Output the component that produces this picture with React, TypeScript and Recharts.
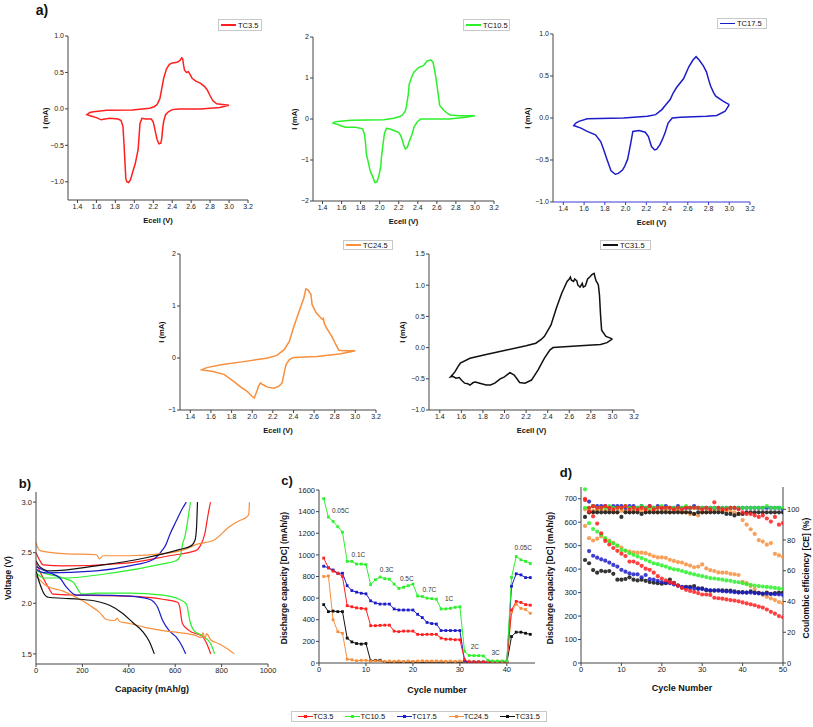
import React from "react";
import {
  LineChart,
  Line,
  XAxis,
  YAxis,
  ScatterChart,
  Scatter,
  ReferenceDot,
} from "recharts";

// ── Series names & colours ───────────────────────────────────────────────────
const SERIES = ["TC3.5", "TC10.5", "TC17.5", "TC24.5", "TC31.5"];
const RED = "#ff1f1f";
const GREEN = "#2bf02b";
const BLUE = "#1c1cc8";
const ORANGE = "#f78f3c";
const BLACK = "#111111";
const COLORS = [RED, GREEN, BLUE, ORANGE, BLACK];
const FONT = "'Liberation Sans', Arial, Helvetica, sans-serif";

// ── a) cyclic voltammetry loops: [Ecell (V), I (mA)] ─────────────────────────
const CV_X_TICKS = [1.4, 1.6, 1.8, 2.0, 2.2, 2.4, 2.6, 2.8, 3.0, 3.2];

const CV_TC3 = [
  [3.0, 0.05], [2.9, 0.02], [2.7, 0.0], [2.47, 0.0], [2.4, -0.01], [2.36, -0.04], [2.33, -0.08],
  [2.31, -0.17], [2.3, -0.26], [2.29, -0.4], [2.28, -0.47], [2.26, -0.48], [2.24, -0.42],
  [2.23, -0.36], [2.21, -0.24], [2.2, -0.18], [2.18, -0.14], [2.12, -0.14], [2.08, -0.13],
  [2.06, -0.2], [2.05, -0.38], [2.04, -0.56], [2.01, -0.75], [1.98, -0.88], [1.96, -0.97],
  [1.94, -1.01], [1.92, -1.0], [1.91, -0.95], [1.9, -0.7], [1.89, -0.45], [1.88, -0.24],
  [1.86, -0.16], [1.83, -0.14], [1.74, -0.13], [1.69, -0.14], [1.65, -0.15], [1.6, -0.12],
  [1.55, -0.1], [1.5, -0.08],
  [1.53, -0.05], [1.57, -0.04], [1.71, -0.02], [1.98, -0.015], [2.16, 0.01], [2.21, 0.03],
  [2.24, 0.06], [2.27, 0.14], [2.29, 0.28], [2.31, 0.42], [2.34, 0.55], [2.37, 0.61],
  [2.4, 0.63], [2.45, 0.64], [2.48, 0.66], [2.5, 0.7], [2.51, 0.69], [2.52, 0.6], [2.53, 0.53],
  [2.55, 0.5], [2.57, 0.51], [2.59, 0.47], [2.61, 0.42], [2.65, 0.38], [2.7, 0.35],
  [2.74, 0.31], [2.77, 0.26], [2.8, 0.18], [2.83, 0.11], [2.87, 0.07], [2.93, 0.06], [3.0, 0.05],
];

const CV_TC10 = [
  [3.0, 0.08], [2.9, 0.04], [2.73, 0.0], [2.43, 0.0], [2.39, -0.08], [2.36, -0.2], [2.34, -0.37],
  [2.31, -0.55], [2.29, -0.69], [2.27, -0.73], [2.25, -0.62], [2.24, -0.53], [2.22, -0.4],
  [2.2, -0.33], [2.15, -0.28], [2.1, -0.24], [2.07, -0.23], [2.05, -0.35], [2.04, -0.53],
  [2.02, -0.9], [2.01, -1.18], [1.99, -1.4], [1.97, -1.54], [1.95, -1.55], [1.93, -1.43],
  [1.9, -1.26], [1.88, -1.05], [1.86, -0.85], [1.85, -0.55], [1.84, -0.37], [1.82, -0.24],
  [1.75, -0.2], [1.64, -0.2], [1.6, -0.17], [1.57, -0.14], [1.51, -0.1],
  [1.53, -0.07], [1.56, -0.06], [1.7, -0.03], [2.04, -0.02], [2.15, 0.02], [2.21, 0.06],
  [2.24, 0.1], [2.27, 0.2], [2.28, 0.3], [2.3, 0.6], [2.31, 0.85], [2.34, 1.05], [2.36, 1.14],
  [2.41, 1.26], [2.46, 1.3], [2.48, 1.36], [2.5, 1.42], [2.54, 1.44], [2.56, 1.38],
  [2.58, 1.15], [2.6, 0.85], [2.62, 0.5], [2.63, 0.33], [2.67, 0.22], [2.71, 0.14],
  [2.74, 0.1], [2.84, 0.08], [3.0, 0.08],
];

const CV_TC17 = [
  [3.0, 0.16], [2.96, 0.08], [2.88, 0.03], [2.78, 0.02], [2.53, 0.01], [2.45, 0.0], [2.41, -0.06],
  [2.38, -0.18], [2.35, -0.27], [2.33, -0.32], [2.3, -0.37], [2.28, -0.38], [2.25, -0.34],
  [2.22, -0.22], [2.19, -0.17], [2.13, -0.15], [2.07, -0.16], [2.05, -0.3], [2.02, -0.49],
  [1.99, -0.58], [1.97, -0.62], [1.93, -0.66], [1.9, -0.67], [1.86, -0.63], [1.82, -0.49],
  [1.79, -0.38], [1.76, -0.28], [1.71, -0.2], [1.63, -0.16], [1.57, -0.12], [1.5, -0.09],
  [1.52, -0.06], [1.55, -0.04], [1.63, -0.01], [1.98, 0.0], [2.21, 0.02], [2.29, 0.04],
  [2.35, 0.1], [2.39, 0.16], [2.43, 0.22], [2.46, 0.3], [2.49, 0.36], [2.56, 0.47],
  [2.61, 0.61], [2.65, 0.69], [2.68, 0.73], [2.71, 0.69], [2.75, 0.62], [2.78, 0.55],
  [2.8, 0.46], [2.82, 0.38], [2.85, 0.3], [2.87, 0.26], [2.94, 0.2], [3.0, 0.16],
];

const CV_TC24 = [
  [3.0, 0.14], [2.93, 0.11], [2.86, 0.08], [2.63, 0.03], [2.4, 0.01], [2.36, -0.03], [2.33, -0.12],
  [2.32, -0.19], [2.3, -0.38], [2.29, -0.48], [2.26, -0.54], [2.21, -0.58], [2.15, -0.56],
  [2.1, -0.51], [2.08, -0.48], [2.06, -0.55], [2.05, -0.61], [2.02, -0.77], [2.0, -0.74],
  [1.95, -0.64], [1.89, -0.56], [1.82, -0.45], [1.73, -0.32], [1.62, -0.26], [1.51, -0.23],
  [1.54, -0.2], [1.57, -0.18], [1.7, -0.13], [1.95, -0.06], [2.15, 0.0], [2.24, 0.05],
  [2.31, 0.16], [2.36, 0.32], [2.4, 0.58], [2.45, 0.87], [2.5, 1.15], [2.52, 1.33],
  [2.54, 1.31], [2.56, 1.25], [2.57, 1.22], [2.58, 1.03], [2.62, 0.87], [2.68, 0.74],
  [2.69, 0.76], [2.7, 0.66], [2.72, 0.58], [2.77, 0.42], [2.81, 0.26], [2.84, 0.15],
  [2.89, 0.14], [3.0, 0.14],
];

const CV_TC31 = [
  [3.0, 0.14], [2.95, 0.08], [2.89, 0.05], [2.7, 0.03], [2.45, 0.0], [2.42, -0.04], [2.37, -0.17],
  [2.31, -0.36], [2.25, -0.52], [2.19, -0.57], [2.14, -0.56], [2.09, -0.44], [2.05, -0.4],
  [2.02, -0.44], [2.0, -0.47], [1.96, -0.5], [1.91, -0.57], [1.87, -0.6], [1.83, -0.6],
  [1.77, -0.57], [1.73, -0.55], [1.71, -0.56], [1.68, -0.6], [1.66, -0.58], [1.63, -0.57],
  [1.6, -0.52], [1.58, -0.48], [1.55, -0.49], [1.52, -0.46], [1.5, -0.47],
  [1.54, -0.39], [1.57, -0.3], [1.59, -0.25], [1.68, -0.17], [1.83, -0.11], [2.02, -0.04],
  [2.2, 0.03], [2.29, 0.07], [2.34, 0.13], [2.37, 0.18], [2.43, 0.36], [2.48, 0.63],
  [2.53, 0.87], [2.58, 1.06], [2.6, 1.1], [2.61, 1.13], [2.62, 1.08], [2.64, 1.06],
  [2.65, 1.1], [2.67, 1.07], [2.68, 1.0], [2.7, 0.97], [2.72, 1.03], [2.73, 0.97],
  [2.75, 0.99], [2.77, 1.1], [2.79, 1.13], [2.81, 1.17], [2.83, 1.19], [2.84, 1.12],
  [2.85, 1.06], [2.86, 1.04], [2.87, 1.0], [2.88, 0.84], [2.89, 0.52], [2.9, 0.28],
  [2.94, 0.18], [3.0, 0.14],
];

// ── b) charge / discharge profiles: [capacity (mAh/g), voltage (V)] ──────────
const DIS_TC3 = [
  [0, 2.4], [20, 2.3], [31, 2.25], [55, 2.15], [74, 2.09], [189, 2.08], [403, 2.07], [546, 2.04],
  [610, 2.01], [620, 1.96], [626, 1.86], [631, 1.8], [660, 1.73], [717, 1.67], [740, 1.58], [753, 1.5],
];
const CHG_TC3 = [
  [0, 2.5], [15, 2.43], [31, 2.38], [117, 2.37], [403, 2.4], [574, 2.47], [689, 2.52],
  [706, 2.56], [728, 2.69], [742, 2.88], [752, 3.0],
];
const DIS_TC10 = [
  [0, 2.32], [46, 2.29], [117, 2.25], [160, 2.21], [185, 2.12], [196, 2.09], [260, 2.1],
  [403, 2.1], [546, 2.08], [617, 2.04], [649, 1.99], [657, 1.9], [663, 1.83], [681, 1.73],
  [717, 1.68], [753, 1.6], [770, 1.5],
];
const CHG_TC10 = [
  [0, 2.3], [17, 2.27], [31, 2.25], [117, 2.25], [331, 2.3], [546, 2.39], [603, 2.42],
  [624, 2.48], [631, 2.58], [642, 2.66], [656, 2.85], [666, 3.0],
];
const DIS_TC17 = [
  [0, 2.36], [60, 2.3], [103, 2.25], [131, 2.16], [174, 2.08], [260, 2.08], [403, 2.07],
  [489, 2.04], [524, 1.96], [546, 1.83], [574, 1.73], [603, 1.67], [631, 1.57], [645, 1.5],
];
const CHG_TC17 = [
  [0, 2.34], [20, 2.31], [46, 2.3], [260, 2.32], [403, 2.37], [503, 2.43], [546, 2.53],
  [560, 2.58], [577, 2.68], [606, 2.82], [627, 2.92], [648, 3.0],
];
const DIS_TC24 = [
  [0, 2.27], [46, 2.17], [117, 2.12], [189, 2.04], [231, 1.98], [274, 1.91], [303, 1.84],
  [339, 1.83], [350, 1.85], [360, 1.82], [403, 1.8], [474, 1.76], [546, 1.73], [617, 1.71],
  [689, 1.68], [712, 1.66], [720, 1.71], [728, 1.65], [735, 1.7], [753, 1.64], [789, 1.6],
  [831, 1.54], [855, 1.5],
];
const CHG_TC24 = [
  [0, 2.6], [8, 2.55], [17, 2.52], [117, 2.49], [260, 2.48], [274, 2.44], [289, 2.47],
  [403, 2.47], [546, 2.49], [640, 2.53], [689, 2.58], [764, 2.62], [835, 2.76], [880, 2.82],
  [907, 2.85], [917, 2.88], [920, 3.0],
];
const DIS_TC31 = [
  [0, 2.32], [17, 2.19], [31, 2.11], [53, 2.06], [117, 2.05], [189, 2.04], [260, 2.02],
  [317, 1.98], [374, 1.9], [417, 1.81], [460, 1.72], [489, 1.62], [510, 1.5],
];
const CHG_TC31 = [
  [0, 2.42], [17, 2.36], [60, 2.32], [260, 2.37], [474, 2.45], [617, 2.53], [670, 2.57],
  [685, 2.62], [692, 2.75], [696, 3.0],
];

// ── c) rate capability: discharge capacity per cycle ────────────────────────
const CYCLES_C = [
  1, 2, 3, 4, 5, 6, 7, 8, 9, 10, 11, 12, 13, 14, 15, 16, 17, 18, 19, 20, 21, 22, 23, 24, 25,
  26, 27, 28, 29, 30, 31, 32, 33, 34, 35, 36, 37, 38, 39, 40, 41, 42, 43, 44, 45,
];
const RATE_TC3 = [
  970, 880, 850, 830, 800, 530, 520, 510, 505, 500, 345, 345, 348, 350, 350, 295, 290, 295, 295,
  295, 265, 262, 265, 265, 265, 230, 220, 220, 215, 215, 30, 5, 5, 5, 5, 5, 5, 5, 5, 5, 490, 570,
  560, 540, 535,
];
const RATE_TC10 = [
  1520, 1350, 1310, 1260, 1210, 940, 940, 915, 915, 910, 725, 770, 795, 780, 775, 730, 690, 700,
  715, 730, 620, 615, 600, 595, 590, 500, 500, 505, 515, 520, 108, 70, 68, 68, 65, 25, 18, 18, 18,
  18, 790, 985, 955, 940, 920,
];
const RATE_TC17 = [
  895, 880, 860, 830, 830, 715, 670, 655, 645, 640, 575, 555, 545, 545, 545, 500, 490, 490, 490,
  490, 450, 420, 375, 365, 360, 300, 300, 300, 300, 300, 20, 8, 8, 8, 8, 8, 8, 8, 8, 8, 710, 825,
  815, 790, 790,
];
const RATE_TC24 = [
  800, 805, 400, 290, 275, 35, 30, 20, 25, 25, 18, 20, 18, 15, 18, 15, 18, 15, 18, 15, 18, 20, 18,
  18, 18, 18, 15, 18, 15, 18, 15, 18, 15, 15, 15, 15, 15, 15, 15, 15, 470, 545, 505, 495, 460,
];
const RATE_TC31 = [
  540, 475, 480, 475, 475, 230, 195, 180, 175, 180, 20, 25, 25, 5, 3, 3, 3, 3, 3, 3, 3, 3, 3, 3, 3,
  3, 3, 3, 3, 3, 3, 3, 3, 3, 3, 3, 3, 3, 3, 3, 245, 285, 285, 275, 265,
];
const RATE_LABELS = ["0.05C", "0.1C", "0.3C", "0.5C", "0.7C", "1C", "2C", "3C", "0.05C"];
const RATE_LABEL_CYCLE = [4.6, 8.4, 14.4, 18.7, 23.5, 27.7, 33.2, 37.6, 43.5];
const RATE_LABEL_CAP = [1409, 1005, 860, 777, 675, 598, 151, 95, 1070];

// ── d) long cycling: discharge capacity (mAh/g) and coulombic efficiency (%) ─
const CYCLES_D = [
  1, 2, 3, 4, 5, 6, 7, 8, 9, 10, 11, 12, 13, 14, 15, 16, 17, 18, 19, 20, 21, 22, 23, 24, 25,
  26, 27, 28, 29, 30, 31, 32, 33, 34, 35, 36, 37, 38, 39, 40, 41, 42, 43, 44, 45, 46, 47, 48, 49, 50,
];
const DC_TC3 = [
  700, 646, 625, 594, 553, 520, 505, 490, 478, 466, 456, 432, 432, 425, 414, 402, 397, 385, 370,
  360, 352, 345, 340, 330, 320, 312, 307, 303, 298, 292, 292, 290, 278, 276, 274, 271, 268, 266,
  263, 258, 254, 250, 246, 240, 236, 228, 218, 210, 200, 195,
];
const DC_TC10 = [
  740, 596, 571, 560, 546, 532, 518, 510, 500, 482, 479, 468, 461, 454, 447, 440, 432, 425, 421,
  416, 411, 404, 399, 397, 392, 387, 382, 378, 374, 370, 366, 362, 360, 358, 355, 352, 350, 346,
  344, 340, 336, 333, 330, 328, 326, 324, 322, 320, 318, 316,
];
const DC_TC17 = [
  null, 477, 457, 449, 442, 436, 428, 418, 411, 397, 389, 382, 378, 378, 365, 375, 357, 355, 350,
  345, 343, 340, 335, 330, 325, 322, 320, 318, 316, 315, 313, 310, 310, 308, 306, 305, 304, 302,
  300, 300, 300, 300, 298, 297, 296, 295, 294, 293, 292, 290,
];
const DC_TC24 = [
  584, 532, 522, 530, 539, 528, 522, 512, 500, 492, 478, 475, 472, 470, 470, 468, 462, 455, 450,
  450, 448, 440, 435, 430, 428, 420, 415, 408, 411, 420, 403, 396, 392, 386, 385, 385, 380, 378,
  375, 346, 340, 328, 315, 300, 290, 282, 275, 268, 260, 255,
];
const DC_TC31 = [
  439, 425, 396, 385, 393, 390, 392, 380, 355, 355, 358, 365, 355, 352, 355, 350, 345, 342, 340,
  338, 340, 355, 342, 330, 322, 325, 325, 328, 318, 318, 310, 308, 308, 310, 310, 308, 308, 305,
  302, 302, 300, 305, 300, 298, 295, 300, 295, 298, 300, 300,
];
const CE_TC3 = [
  106, 101, 102, 101, 101, 102, 101, 100, 101, 101, 102, 100, 101, 100, 101, 100, 102, 100, 101,
  101, 101, 101, 100, 101, 100, 101, 101, 101, 101, 100, 101, 100, 104.5, 101, 100, 100, 101, 101,
  100, 98, 97, 97, 96, 95, 96, 94, 92, 95, 90, 91,
];
const CE_TC10 = [
  101, 101, 102, 101, 101, 101, 102, 101, 101, 101, 102, 101, 101, 101, 102, 101, 101, 101, 101,
  102, 101, 101, 101, 101, 101, 102, 101, 101, 101, 101, 101, 101, 101, 101, 101, 101, 101, 101,
  101, 101, 101, 101, 101, 101, 101, 102, 101, 101, 101, 101,
];
const CE_TC17 = [
  null, 105, 102, 102, 102, 102, 101, 102, 102, 102, 101, 102, 102, 101, 102, 101, 102, 101, 102,
  101, 102, 101, 101, 102, 101, 101, 101, 102, 101, 101, 101, 101, 101, 101, 101, 101, 101, 101,
  101, 101, 101, 101, 101, 101, 101, 101, 101, 101, 101, 100,
];
const CE_TC24 = [
  100, 98, 99, 99, 100, 99, 99, 99, 98, 99, 99, 98, 99, 99, 99, 98, 99, 99, 98, 99, 99, 98, 99, 99,
  98, 98, 97, 97, 96, 98, 98, 99, 99, 99, 99, 99, 99, 98, 97, 93, 90, 87, 84, 80, 79, 77, 78, 71,
  70, 69,
];
const CE_TC31 = [
  95, 98, 98, 98, 98, 98, 98, 98, 98, 95, 98, 98, 98, 98, 97, 98, 98, 98, 98, 98, 98, 98, 98, 98,
  98, 98, 98, 97, 98, 98, 98, 98, 98, 98, 98, 97, 97, 96, 97, 97, 98, 98, 98, 98, 98, 98, 98, 98,
  98, 98,
];

// ── layout helpers ──────────────────────────────────────────────────────────
type Box = { l: number; t: number; r: number; b: number };
const PAD = { l: 40, t: 6, r: 10, b: 24 };

function place(box: Box, rightAxis = 0) {
  return {
    style: { position: "absolute" as const, left: box.l - PAD.l, top: box.t - PAD.t },
    width: box.r - box.l + PAD.l + (rightAxis || PAD.r),
    height: box.b - box.t + PAD.t + PAD.b,
    margin: { top: PAD.t, right: rightAxis ? 0 : PAD.r, bottom: 0, left: 0 },
  };
}

const minus = (s: string) => s.replace("-", "\u2212");
const fmt1 = (v: number) => minus(v.toFixed(1));
const fmt0 = (v: number) => minus(String(v));
const toPts = (arr: number[][], kx: string, ky: string) =>
  arr.map(([a, b]) => ({ [kx]: a, [ky]: b }));

function Txt({
  x, y, size = 8.5, bold = true, rotate = 0, children,
}: { x: number; y: number; size?: number; bold?: boolean; rotate?: number; children: React.ReactNode }) {
  return (
    <div
      style={{
        position: "absolute",
        left: x,
        top: y,
        transform: `translate(-50%, -50%) rotate(${rotate}deg)`,
        whiteSpace: "nowrap",
        fontFamily: FONT,
        fontSize: size,
        fontWeight: bold ? 700 : 400,
        color: "#111",
        lineHeight: 1,
      }}
    >
      {children}
    </div>
  );
}

function CvLegend({ x, y, w, h, color, label }: { x: number; y: number; w: number; h: number; color: string; label: string }) {
  return (
    <div
      style={{
        position: "absolute", left: x, top: y, width: w, height: h, boxSizing: "border-box",
        border: "1px solid #c8c8c8", background: "#fff", display: "flex", alignItems: "center",
        gap: 2, paddingLeft: 2, fontFamily: FONT, fontSize: 7.5, color: "#111",
      }}
    >
      <span style={{ display: "inline-block", width: 15, height: 1.6, background: color }} />
      {label}
    </div>
  );
}

const axisStyle = { stroke: "#444", tickSize: 3, tickMargin: 1 };
const tickFont = (size: number) => ({ fontSize: size, fill: "#222", fontFamily: FONT });

// ── one CV panel ────────────────────────────────────────────────────────────
function CvPanel({
  box, data, color, yDomain, yTicks, yFmt, yTitleX, xAxisColor = "#444",
}: {
  box: Box; data: number[][]; color: string; yDomain: number[]; yTicks: number[];
  yFmt: (v: number) => string; yTitleX: number; xAxisColor?: string;
}) {
  const p = place(box);
  return (
    <>
      <div style={p.style}>
        <LineChart width={p.width} height={p.height} margin={p.margin}>
          <XAxis
            type="number" dataKey="e" domain={[1.3, 3.2]} ticks={CV_X_TICKS} allowDataOverflow
            tickFormatter={fmt1} height={PAD.b} {...axisStyle} stroke={xAxisColor} tick={tickFont(7)}
          />
          <YAxis
            type="number" dataKey="i" domain={yDomain} ticks={yTicks} allowDataOverflow
            tickFormatter={yFmt} width={PAD.l} {...axisStyle} tick={tickFont(7)}
          />
          <Line
            data={toPts(data, "e", "i")} dataKey="i" type="linear" stroke={color}
            strokeWidth={1.5} dot={false} isAnimationActive={false}
          />
        </LineChart>
      </div>
      <Txt x={(box.l + box.r) / 2} y={box.b + 21} size={7.5}>Ecell (V)</Txt>
      <Txt x={yTitleX} y={(box.t + box.b) / 2} size={7.5} rotate={-90}>I (mA)</Txt>
    </>
  );
}

const squareDot = (color: string) => (props: any) => {
  const { cx, cy, index } = props;
  if (cx == null || cy == null) return <g key={`d${index}`} />;
  return <rect key={`d${index}`} x={cx - 1.4} y={cy - 1.4} width={2.8} height={2.8} fill={color} />;
};
const roundDot = (color: string) => (props: any) => (
  <circle cx={props.cx} cy={props.cy} r={2.1} fill={color} fillOpacity={0.85} />
);

export default function App() {
  const boxB: Box = { l: 36, t: 492, r: 268, b: 664 };
  const boxC: Box = { l: 319, t: 490, r: 535, b: 663 };
  const boxD: Box = { l: 581, t: 487, r: 783, b: 663 };
  const pb = place(boxB);
  const pc = place(boxC);
  const pd = place(boxD, 30);

  const profiles = [
    [DIS_TC3, CHG_TC3], [DIS_TC10, CHG_TC10], [DIS_TC17, CHG_TC17],
    [DIS_TC24, CHG_TC24], [DIS_TC31, CHG_TC31],
  ];
  const rateRows = CYCLES_C.map((c, i) => ({
    cycle: c, tc3: RATE_TC3[i], tc10: RATE_TC10[i], tc17: RATE_TC17[i], tc24: RATE_TC24[i], tc31: RATE_TC31[i],
  }));
  const rateKeys = ["tc3", "tc10", "tc17", "tc24", "tc31"];
  const rateOrder = [4, 3, 2, 0, 1];
  const dcSets = [DC_TC3, DC_TC10, DC_TC17, DC_TC24, DC_TC31];
  const ceSets = [CE_TC3, CE_TC10, CE_TC17, CE_TC24, CE_TC31];
  const toScatter = (vals: (number | null)[]) =>
    CYCLES_D.map((c, i) => ({ x: c, y: vals[i] })).filter((d) => d.y != null);
  const dOrder = [3, 4, 2, 1, 0];

  return (
    <div style={{ position: "absolute", left: 0, top: 0, width: 813, height: 727, background: "#fff", overflow: "hidden" }}>
      {/* a) */}
      <Txt x={42} y={10} size={14}>a)</Txt>
      <CvPanel box={{ l: 68, t: 36, r: 248, b: 200 }} data={CV_TC3} color={RED}
        yDomain={[-1.25, 1]} yTicks={[-1, -0.5, 0, 0.5, 1]} yFmt={fmt1} yTitleX={46} />
      <CvPanel box={{ l: 313, t: 37, r: 494, b: 201 }} data={CV_TC10} color={GREEN}
        yDomain={[-2, 2]} yTicks={[-2, -1, 0, 1, 2]} yFmt={fmt0} yTitleX={295} />
      <CvPanel box={{ l: 553, t: 34, r: 750, b: 202 }} data={CV_TC17} color={BLUE}
        yDomain={[-1, 1]} yTicks={[-1, -0.5, 0, 0.5, 1]} yFmt={fmt1} yTitleX={528} xAxisColor="#3a3ad8" />
      <CvPanel box={{ l: 180, t: 254, r: 376, b: 410 }} data={CV_TC24} color={ORANGE}
        yDomain={[-1, 2]} yTicks={[-1, 0, 1, 2]} yFmt={fmt0} yTitleX={162} />
      <CvPanel box={{ l: 429, t: 254, r: 634, b: 410 }} data={CV_TC31} color={BLACK}
        yDomain={[-1, 1.5]} yTicks={[-1, -0.5, 0, 0.5, 1, 1.5]} yFmt={fmt1} yTitleX={403} />
      <CvLegend x={218} y={19} w={44} h={12} color={RED} label={SERIES[0]} />
      <CvLegend x={463} y={19} w={47} h={12} color={GREEN} label={SERIES[1]} />
      <CvLegend x={717} y={18} w={50} h={11} color={BLUE} label={SERIES[2]} />
      <CvLegend x={343} y={240} w={50} h={10} color={ORANGE} label={SERIES[3]} />
      <CvLegend x={600} y={240} w={51} h={10} color={BLACK} label={SERIES[4]} />

      {/* b) */}
      <Txt x={25} y={483} size={13}>b)</Txt>
      <div style={pb.style}>
        <LineChart width={pb.width} height={pb.height} margin={pb.margin}>
          <XAxis type="number" dataKey="c" domain={[0, 1000]} ticks={[0, 200, 400, 600, 800, 1000]}
            allowDataOverflow height={PAD.b} {...axisStyle} tick={tickFont(7.5)} />
          <YAxis type="number" dataKey="v" domain={[1.4, 3.1]} ticks={[1.5, 2.0, 2.5, 3.0]}
            allowDataOverflow tickFormatter={fmt1} width={PAD.l} {...axisStyle} tick={tickFont(7.5)} />
          {profiles.flatMap(([dis, chg], k) => [
            <Line key={`d${k}`} data={toPts(dis, "c", "v")} dataKey="v" type="monotone"
              stroke={COLORS[k]} strokeWidth={1.2} dot={false} isAnimationActive={false} />,
            <Line key={`c${k}`} data={toPts(chg, "c", "v")} dataKey="v" type="monotone"
              stroke={COLORS[k]} strokeWidth={1.2} dot={false} isAnimationActive={false} />,
          ])}
        </LineChart>
      </div>
      <Txt x={152} y={689} size={9}>Capacity (mAh/g)</Txt>
      <Txt x={8} y={578} size={8.5} rotate={-90}>Voltage (V)</Txt>

      {/* c) */}
      <Txt x={287} y={480} size={13}>c)</Txt>
      <div style={pc.style}>
        <LineChart width={pc.width} height={pc.height} margin={pc.margin} data={rateRows}>
          <XAxis type="number" dataKey="cycle" domain={[0, 46]} ticks={[0, 10, 20, 30, 40]}
            allowDataOverflow height={PAD.b} {...axisStyle} tick={tickFont(7.5)} />
          <YAxis type="number" domain={[0, 1600]} ticks={[0, 200, 400, 600, 800, 1000, 1200, 1400, 1600]}
            allowDataOverflow width={PAD.l} {...axisStyle} tick={tickFont(7.5)} />
          {rateOrder.map((k) => (
            <Line key={rateKeys[k]} dataKey={rateKeys[k]} type="linear" stroke={COLORS[k]}
              strokeWidth={1} dot={squareDot(COLORS[k])} activeDot={false} isAnimationActive={false} />
          ))}
          {RATE_LABELS.map((lbl, i) => (
            <ReferenceDot key={`r${i}`} x={RATE_LABEL_CYCLE[i]} y={RATE_LABEL_CAP[i]} r={0}
              fill="none" stroke="none"
              label={{ value: lbl, position: "center", fontSize: 6.5, fill: "#333", fontFamily: FONT }} />
          ))}
        </LineChart>
      </div>
      <Txt x={437} y={690} size={9}>Cycle number</Txt>
      <Txt x={284} y={578} size={8.5} rotate={-90}>Discharge capacity [DC] (mAh/g)</Txt>

      {/* d) */}
      <Txt x={566} y={472} size={13}>d)</Txt>
      <div style={pd.style}>
        <ScatterChart width={pd.width} height={pd.height} margin={pd.margin}>
          <XAxis type="number" dataKey="x" domain={[0, 50]} ticks={[0, 10, 20, 30, 40, 50]}
            allowDataOverflow height={PAD.b} {...axisStyle} tick={tickFont(7.5)} />
          <YAxis yAxisId="L" type="number" dataKey="y" domain={[0, 750]}
            ticks={[0, 100, 200, 300, 400, 500, 600, 700]} allowDataOverflow width={PAD.l}
            {...axisStyle} tick={tickFont(7.5)} />
          <YAxis yAxisId="R" orientation="right" type="number" dataKey="y" domain={[0, 114.5]}
            ticks={[0, 20, 40, 60, 80, 100]} allowDataOverflow width={30}
            {...axisStyle} tick={tickFont(7.5)} />
          {dOrder.map((k) => (
            <Scatter key={`ce${k}`} yAxisId="R" data={toScatter(ceSets[k])} fill={COLORS[k]}
              shape={roundDot(COLORS[k])} isAnimationActive={false} />
          ))}
          {dOrder.map((k) => (
            <Scatter key={`dc${k}`} yAxisId="L" data={toScatter(dcSets[k])} fill={COLORS[k]}
              shape={roundDot(COLORS[k])} isAnimationActive={false} />
          ))}
        </ScatterChart>
      </div>
      <Txt x={682} y={688} size={9}>Cycle Number</Txt>
      <Txt x={550} y={578} size={8.5} rotate={-90}>Discharge capacity [DC] (mAh/g)</Txt>
      <Txt x={806} y={578} size={8.5} rotate={-90}>Coulombic efficiency [CE] (%)</Txt>

      {/* shared legend */}
      <div
        style={{
          position: "absolute", left: 291, top: 711, width: 256, height: 11, boxSizing: "border-box",
          border: "1px solid #c8c8c8", display: "flex", alignItems: "center", justifyContent: "space-around",
          fontFamily: FONT, fontSize: 7.5, color: "#111",
        }}
      >
        {SERIES.map((s, k) => (
          <span key={s} style={{ display: "flex", alignItems: "center" }}>
            <svg width={15} height={5}>
              <line x1={0} y1={2.5} x2={15} y2={2.5} stroke={COLORS[k]} strokeWidth={1} />
              <rect x={6} y={1} width={3} height={3} fill={COLORS[k]} />
            </svg>
            {s}
          </span>
        ))}
      </div>
    </div>
  );
}
